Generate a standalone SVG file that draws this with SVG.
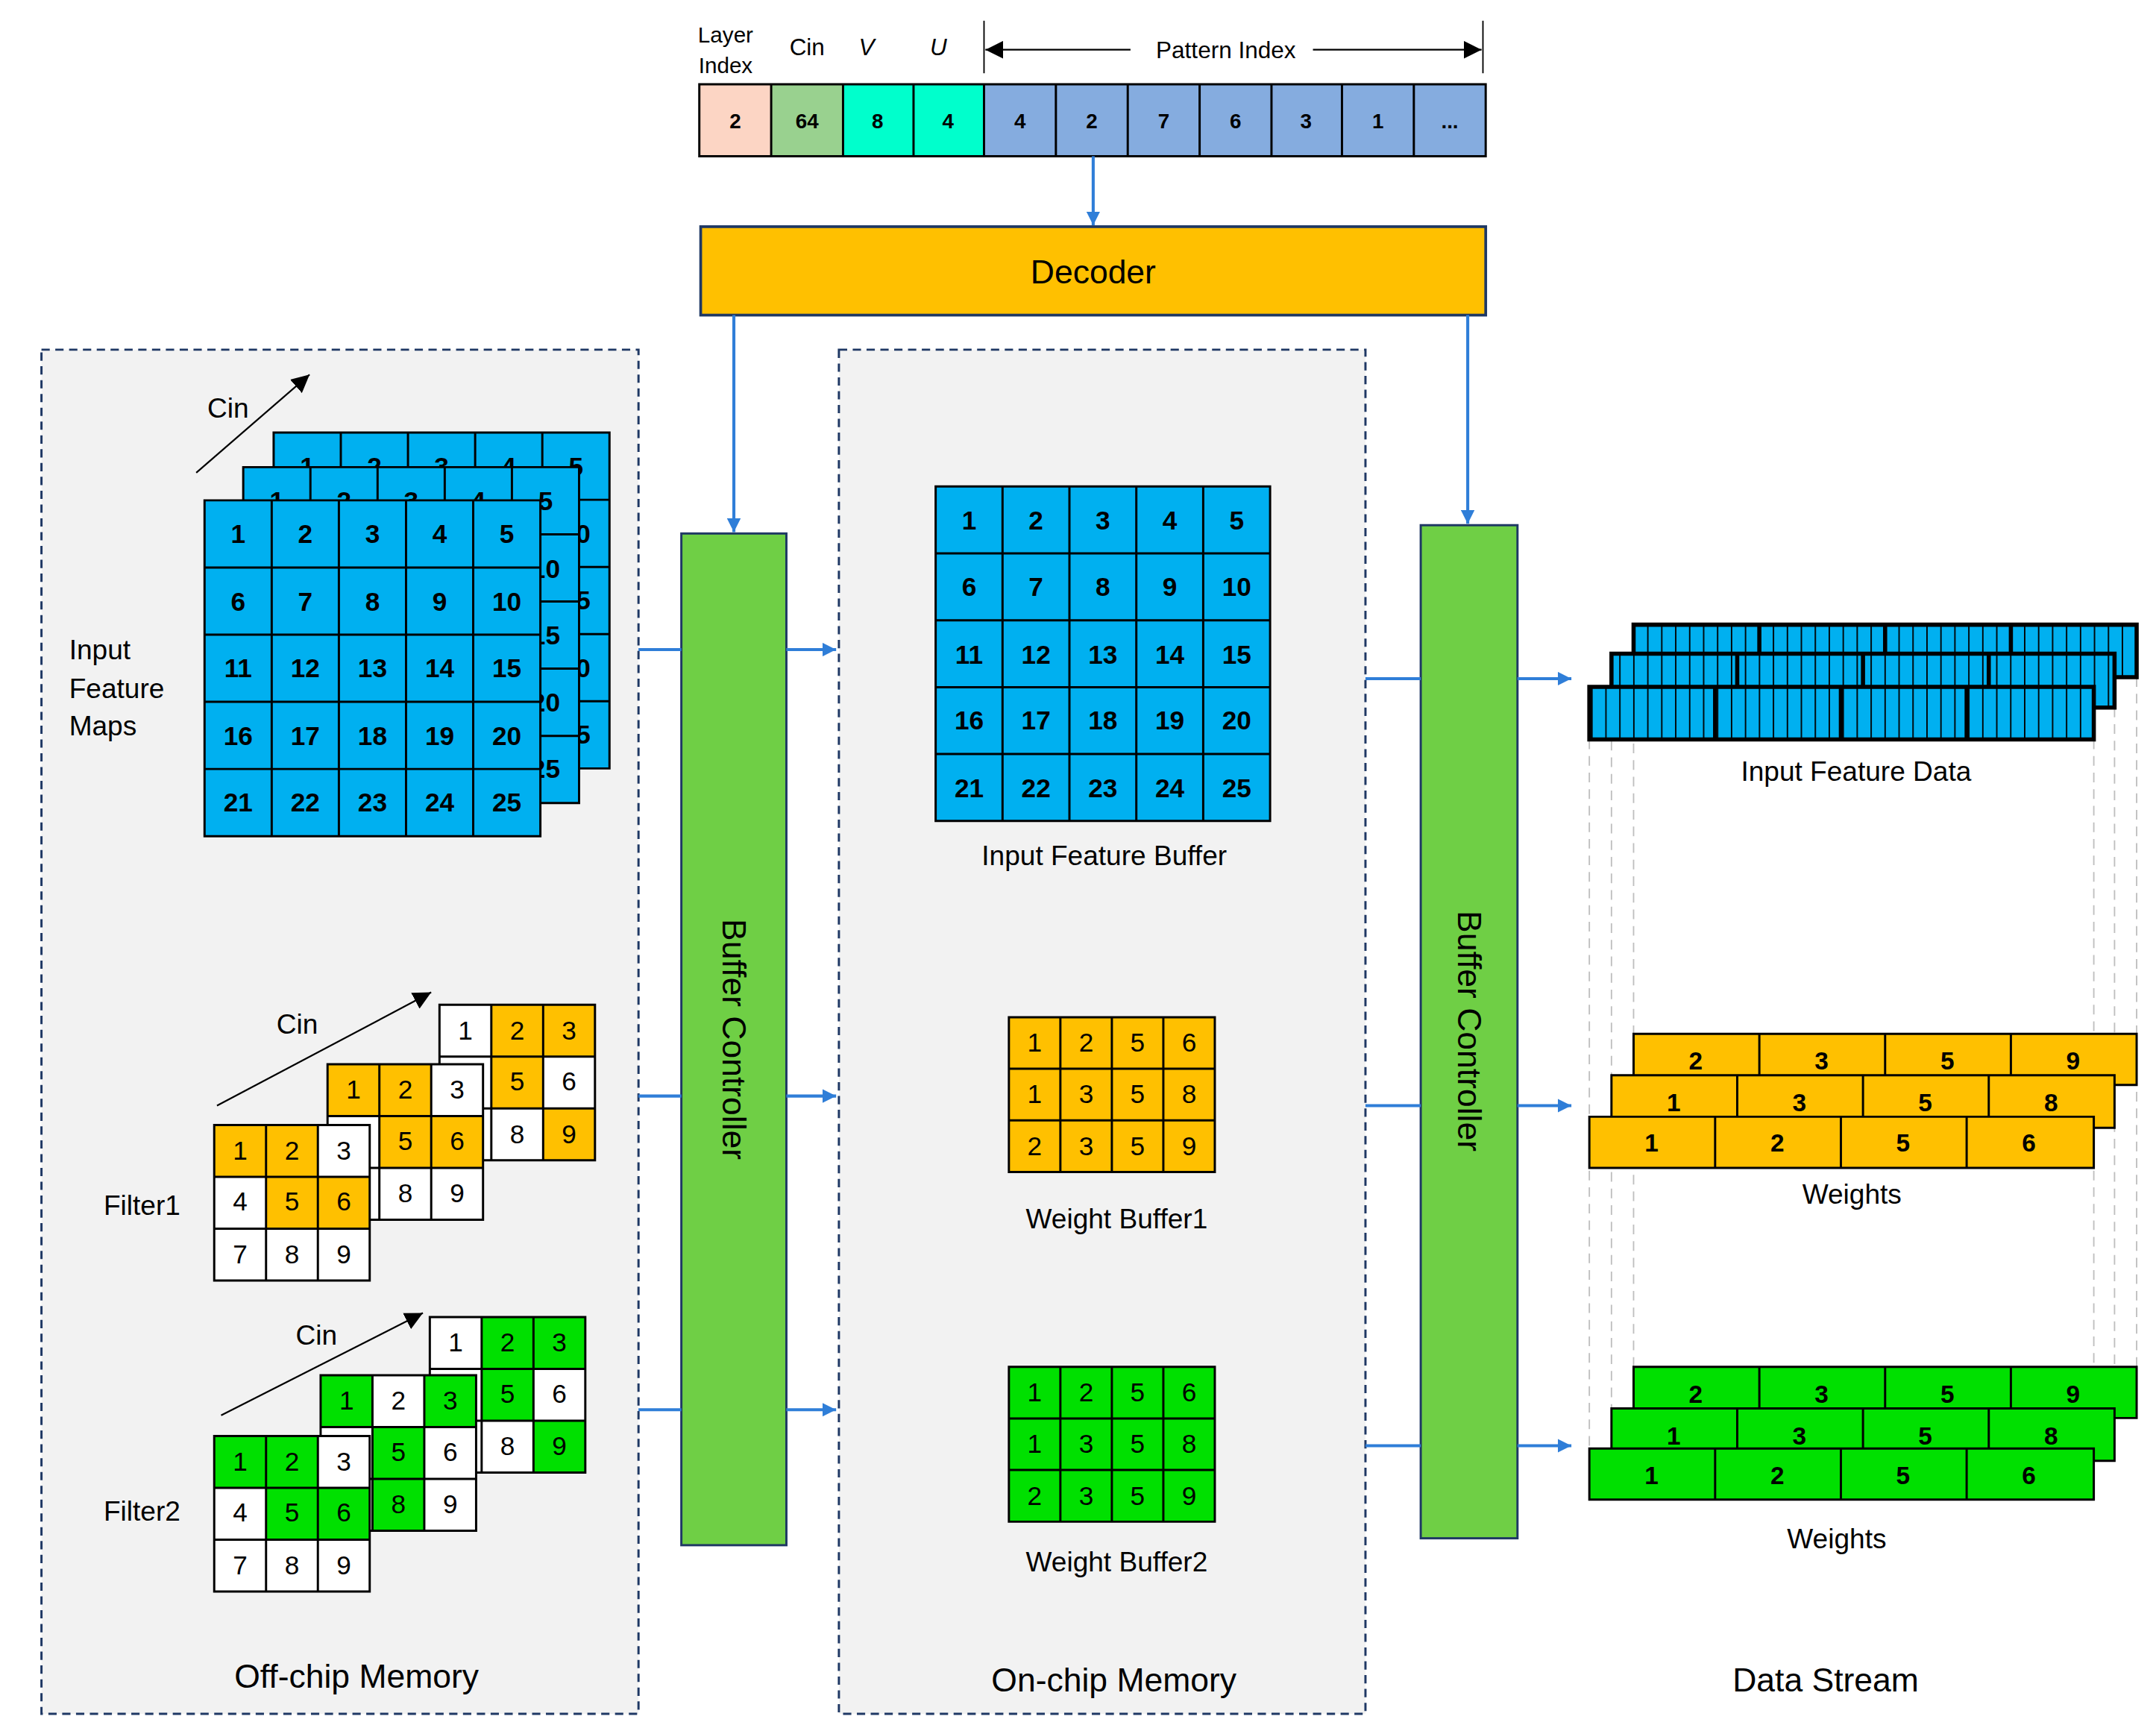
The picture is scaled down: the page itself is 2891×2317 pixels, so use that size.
<svg xmlns="http://www.w3.org/2000/svg" width="2891" height="2317" viewBox="0 0 2891 2317">
<style>
text{font-family:"Liberation Sans",Arial,sans-serif;fill:#000}
.n{font-size:19px;font-weight:bold;text-anchor:middle}
.f{font-size:19px;text-anchor:middle}
.fb{font-size:18px;font-weight:bold;text-anchor:middle}
.bar{font-size:15px;font-weight:bold;text-anchor:middle}
.lbl{font-size:20px}
.big{font-size:24px;text-anchor:middle}
.g{stroke:#000;stroke-width:1.6;fill:none}
.blue{fill:#00b0f0}
.y{fill:#ffc000}
.gr{fill:#00e000}
.w{fill:#fff}
.conn{stroke:#2f7ed8;stroke-width:2.2;fill:none}
.mem{fill:#f2f2f2;stroke:#1f3864;stroke-width:1.6;stroke-dasharray:6,4}
.bc{fill:#6fcf45;stroke:#1f3864;stroke-width:1.6}
.gd{stroke:#bfbfbf;stroke-width:1;stroke-dasharray:7,5;fill:none}
.tb{stroke:#000;stroke-width:3;fill:none}
</style>
<defs>
<marker id="ab" viewBox="0 0 10 10" refX="10" refY="5" markerWidth="10" markerHeight="10" markerUnits="userSpaceOnUse" orient="auto"><path d="M0,0L10,5L0,10z" fill="#2f7ed8"/></marker>
<marker id="ak" viewBox="0 0 10 10" refX="10" refY="5" markerWidth="13" markerHeight="13" markerUnits="userSpaceOnUse" orient="auto"><path d="M0,0L10,5L0,10z" fill="#000"/></marker>
<pattern id="st" x="0" y="0" width="10.1" height="20" patternUnits="userSpaceOnUse"><rect width="10.1" height="20" fill="#00b0f0"/><line x1="0.5" y1="0" x2="0.5" y2="20" stroke="#000" stroke-width="1"/></pattern>
</defs>
<rect width="2891" height="2317" fill="#fff"/>
<g transform="scale(1.8532)">
<g id="header">
<text x="525" y="31" class="lbl" font-size="16" text-anchor="middle" style="font-size:16px">Layer</text>
<text x="525" y="53" style="font-size:16px" text-anchor="middle">Index</text>
<text x="584" y="40" style="font-size:17px" text-anchor="middle">Cin</text>
<text x="627" y="40" style="font-size:17px;font-style:italic" text-anchor="middle">V</text>
<text x="679" y="40" style="font-size:17px;font-style:italic" text-anchor="middle">U</text>
<line x1="712" y1="15" x2="712" y2="53" stroke="#000" stroke-width="1"/>
<line x1="1073" y1="15" x2="1073" y2="53" stroke="#000" stroke-width="1"/>
<line x1="818" y1="36" x2="713" y2="36" stroke="#000" stroke-width="1.2" marker-end="url(#ak)"/>
<line x1="950" y1="36" x2="1072" y2="36" stroke="#000" stroke-width="1.2" marker-end="url(#ak)"/>
<text x="887" y="42" style="font-size:17px" text-anchor="middle">Pattern Index</text>
</g>
<g id="bar">
<rect x="506" y="61" width="52" height="52" fill="#fcd5c4"/>
<rect x="558" y="61" width="52" height="52" fill="#99d18f"/>
<rect x="610" y="61" width="102" height="52" fill="#00ffcc"/>
<rect x="712" y="61" width="363" height="52" fill="#85acdf"/>
<path class="g" d="M506,61H1075V113H506Z M558,61V113 M610,61V113 M661,61V113 M712,61V113 M764,61V113 M816,61V113 M868,61V113 M920,61V113 M971,61V113 M1023,61V113"/>
<text class="bar" x="532" y="93">2</text><text class="bar" x="584" y="93">64</text><text class="bar" x="635" y="93">8</text><text class="bar" x="686" y="93">4</text>
<text class="bar" x="738" y="93">4</text><text class="bar" x="790" y="93">2</text><text class="bar" x="842" y="93">7</text><text class="bar" x="894" y="93">6</text><text class="bar" x="945" y="93">3</text><text class="bar" x="997" y="93">1</text><text class="bar" x="1049" y="93">...</text>
</g>
<g id="decoder">
<rect x="507" y="164" width="568" height="64" fill="#ffc000" stroke="#1f3864" stroke-width="2"/>
<text class="big" x="791" y="205">Decoder</text>
</g>
<g id="offchip"><rect class="mem" x="30" y="253" width="432" height="987"/>
<text class="big" x="258" y="1221">Off-chip Memory</text></g>
<g id="onchip"><rect class="mem" x="607" y="253" width="381" height="987"/>
<text class="big" x="806" y="1224">On-chip Memory</text></g>
<g id="bc1"><rect class="bc" x="493" y="386" width="76" height="732"/>
<text class="big" transform="translate(523,752) rotate(90)">Buffer Controller</text></g>
<g id="bc2"><rect class="bc" x="1028" y="380" width="70" height="733"/>
<text class="big" transform="translate(1055,746) rotate(90)">Buffer Controller</text></g>
<g id="connectors">
<line class="conn" x1="791" y1="113" x2="791" y2="163" marker-end="url(#ab)"/>
<line class="conn" x1="531" y1="228" x2="531" y2="385" marker-end="url(#ab)"/>
<line class="conn" x1="1062" y1="228" x2="1062" y2="379" marker-end="url(#ab)"/>
<line class="conn" x1="462" y1="470" x2="493" y2="470"/><line class="conn" x1="569" y1="470" x2="605" y2="470" marker-end="url(#ab)"/>
<line class="conn" x1="462" y1="793" x2="493" y2="793"/><line class="conn" x1="569" y1="793" x2="605" y2="793" marker-end="url(#ab)"/>
<line class="conn" x1="462" y1="1020" x2="493" y2="1020"/><line class="conn" x1="569" y1="1020" x2="605" y2="1020" marker-end="url(#ab)"/>
<line class="conn" x1="988" y1="491" x2="1028" y2="491"/><line class="conn" x1="1098" y1="491" x2="1137" y2="491" marker-end="url(#ab)"/>
<line class="conn" x1="988" y1="800" x2="1028" y2="800"/><line class="conn" x1="1098" y1="800" x2="1137" y2="800" marker-end="url(#ab)"/>
<line class="conn" x1="988" y1="1046" x2="1028" y2="1046"/><line class="conn" x1="1098" y1="1046" x2="1137" y2="1046" marker-end="url(#ab)"/>
</g>
<g id="ifm">
<line x1="142" y1="342" x2="224" y2="271" stroke="#000" stroke-width="1.2" marker-end="url(#ak)"/>
<text x="165" y="302" class="lbl" text-anchor="middle">Cin</text>
<text x="50" y="477" class="lbl">Input</text><text x="50" y="505" class="lbl">Feature</text><text x="50" y="532" class="lbl">Maps</text>
<rect class="blue" x="198" y="313" width="243" height="243"/>
<path class="g" d="M198,313h243v243h-243z M246.6,313v243 M295.2,313v243 M343.8,313v243 M392.4,313v243 M198,361.6h243 M198,410.2h243 M198,458.8h243 M198,507.4h243"/>
<text class="n" x="222.3" y="344">1</text><text class="n" x="270.9" y="344">2</text><text class="n" x="319.5" y="344">3</text><text class="n" x="368.1" y="344">4</text><text class="n" x="416.7" y="344">5</text>
<text class="n" x="416.7" y="393">10</text><text class="n" x="416.7" y="441">15</text><text class="n" x="416.7" y="490">20</text><text class="n" x="416.7" y="538">25</text>
<rect class="blue" x="176" y="338" width="243" height="243"/>
<path class="g" d="M176,338h243v243h-243z M224.6,338v243 M273.2,338v243 M321.8,338v243 M370.4,338v243 M176,386.6h243 M176,435.2h243 M176,483.8h243 M176,532.4h243"/>
<text class="n" x="200.3" y="369">1</text><text class="n" x="248.9" y="369">2</text><text class="n" x="297.5" y="369">3</text><text class="n" x="346.1" y="369">4</text><text class="n" x="394.7" y="369">5</text>
<text class="n" x="394.7" y="418">10</text><text class="n" x="394.7" y="466">15</text><text class="n" x="394.7" y="515">20</text><text class="n" x="394.7" y="563">25</text>
<rect class="blue" x="148" y="362" width="243" height="243"/>
<path class="g" d="M148,362h243v243h-243z M196.6,362v243 M245.2,362v243 M293.8,362v243 M342.4,362v243 M148,410.6h243 M148,459.2h243 M148,507.8h243 M148,556.4h243"/>
<text class="n" x="172.3" y="393">1</text><text class="n" x="220.9" y="393">2</text><text class="n" x="269.5" y="393">3</text><text class="n" x="318.1" y="393">4</text><text class="n" x="366.7" y="393">5</text>
<text class="n" x="172.3" y="442">6</text><text class="n" x="220.9" y="442">7</text><text class="n" x="269.5" y="442">8</text><text class="n" x="318.1" y="442">9</text><text class="n" x="366.7" y="442">10</text>
<text class="n" x="172.3" y="490">11</text><text class="n" x="220.9" y="490">12</text><text class="n" x="269.5" y="490">13</text><text class="n" x="318.1" y="490">14</text><text class="n" x="366.7" y="490">15</text>
<text class="n" x="172.3" y="539">16</text><text class="n" x="220.9" y="539">17</text><text class="n" x="269.5" y="539">18</text><text class="n" x="318.1" y="539">19</text><text class="n" x="366.7" y="539">20</text>
<text class="n" x="172.3" y="587">21</text><text class="n" x="220.9" y="587">22</text><text class="n" x="269.5" y="587">23</text><text class="n" x="318.1" y="587">24</text><text class="n" x="366.7" y="587">25</text>
</g>
<g id="filter1">
<line x1="157" y1="800" x2="312" y2="718" stroke="#000" stroke-width="1.2" marker-end="url(#ak)"/>
<text x="215" y="748" class="lbl" text-anchor="middle">Cin</text>
<text x="75" y="879" class="lbl">Filter1</text>
<g transform="translate(318,727)">
<rect class="w" width="112.5" height="112.5"/><rect class="y" x="37.5" width="75" height="37.5"/><rect class="y" x="37.5" y="37.5" width="37.5" height="37.5"/><rect class="y" x="75" y="75" width="37.5" height="37.5"/>
<path class="g" d="M0,0h112.5v112.5h-112.5z M37.5,0v112.5 M75,0v112.5 M0,37.5h112.5 M0,75h112.5"/>
<text class="f" x="18.75" y="25">1</text><text class="f" x="56.25" y="25">2</text><text class="f" x="93.75" y="25">3</text><text class="f" x="56.25" y="62">5</text><text class="f" x="93.75" y="62">6</text><text class="f" x="56.25" y="100">8</text><text class="f" x="93.75" y="100">9</text></g>
<g transform="translate(237,770)">
<rect class="w" width="112.5" height="112.5"/><rect class="y" width="75" height="37.5"/><rect class="y" x="37.5" y="37.5" width="75" height="37.5"/>
<path class="g" d="M0,0h112.5v112.5h-112.5z M37.5,0v112.5 M75,0v112.5 M0,37.5h112.5 M0,75h112.5"/>
<text class="f" x="18.75" y="25">1</text><text class="f" x="56.25" y="25">2</text><text class="f" x="93.75" y="25">3</text><text class="f" x="56.25" y="62">5</text><text class="f" x="93.75" y="62">6</text><text class="f" x="56.25" y="100">8</text><text class="f" x="93.75" y="100">9</text></g>
<g transform="translate(155,814)">
<rect class="w" width="112.5" height="112.5"/><rect class="y" width="75" height="37.5"/><rect class="y" x="37.5" y="37.5" width="75" height="37.5"/>
<path class="g" d="M0,0h112.5v112.5h-112.5z M37.5,0v112.5 M75,0v112.5 M0,37.5h112.5 M0,75h112.5"/>
<text class="f" x="18.75" y="25">1</text><text class="f" x="56.25" y="25">2</text><text class="f" x="93.75" y="25">3</text><text class="f" x="18.75" y="62">4</text><text class="f" x="56.25" y="62">5</text><text class="f" x="93.75" y="62">6</text><text class="f" x="18.75" y="100">7</text><text class="f" x="56.25" y="100">8</text><text class="f" x="93.75" y="100">9</text></g>
</g>
<g id="filter2">
<line x1="160" y1="1024" x2="306" y2="950" stroke="#000" stroke-width="1.2" marker-end="url(#ak)"/>
<text x="229" y="973" class="lbl" text-anchor="middle">Cin</text>
<text x="75" y="1100" class="lbl">Filter2</text>
<g transform="translate(311,953)">
<rect class="w" width="112.5" height="112.5"/><rect class="gr" x="37.5" width="75" height="37.5"/><rect class="gr" x="37.5" y="37.5" width="37.5" height="37.5"/><rect class="gr" x="75" y="75" width="37.5" height="37.5"/>
<path class="g" d="M0,0h112.5v112.5h-112.5z M37.5,0v112.5 M75,0v112.5 M0,37.5h112.5 M0,75h112.5"/>
<text class="f" x="18.75" y="25">1</text><text class="f" x="56.25" y="25">2</text><text class="f" x="93.75" y="25">3</text><text class="f" x="56.25" y="62">5</text><text class="f" x="93.75" y="62">6</text><text class="f" x="56.25" y="100">8</text><text class="f" x="93.75" y="100">9</text></g>
<g transform="translate(232,995)">
<rect class="w" width="112.5" height="112.5"/><rect class="gr" width="37.5" height="37.5"/><rect class="gr" x="75" width="37.5" height="37.5"/><rect class="gr" x="37.5" y="37.5" width="37.5" height="75"/>
<path class="g" d="M0,0h112.5v112.5h-112.5z M37.5,0v112.5 M75,0v112.5 M0,37.5h112.5 M0,75h112.5"/>
<text class="f" x="18.75" y="25">1</text><text class="f" x="56.25" y="25">2</text><text class="f" x="93.75" y="25">3</text><text class="f" x="56.25" y="62">5</text><text class="f" x="93.75" y="62">6</text><text class="f" x="56.25" y="100">8</text><text class="f" x="93.75" y="100">9</text></g>
<g transform="translate(155,1039)">
<rect class="w" width="112.5" height="112.5"/><rect class="gr" width="75" height="37.5"/><rect class="gr" x="37.5" y="37.5" width="75" height="37.5"/>
<path class="g" d="M0,0h112.5v112.5h-112.5z M37.5,0v112.5 M75,0v112.5 M0,37.5h112.5 M0,75h112.5"/>
<text class="f" x="18.75" y="25">1</text><text class="f" x="56.25" y="25">2</text><text class="f" x="93.75" y="25">3</text><text class="f" x="18.75" y="62">4</text><text class="f" x="56.25" y="62">5</text><text class="f" x="93.75" y="62">6</text><text class="f" x="18.75" y="100">7</text><text class="f" x="56.25" y="100">8</text><text class="f" x="93.75" y="100">9</text></g>
</g>
<g id="ifbuf">
<rect class="blue" x="677" y="352" width="242" height="242"/>
<path class="g" d="M677,352h242v242h-242z M725.4,352v242 M773.8,352v242 M822.2,352v242 M870.6,352v242 M677,400.4h242 M677,448.8h242 M677,497.2h242 M677,545.6h242"/>
<text class="n" x="701.2" y="383">1</text><text class="n" x="749.6" y="383">2</text><text class="n" x="798" y="383">3</text><text class="n" x="846.4" y="383">4</text><text class="n" x="894.8" y="383">5</text>
<text class="n" x="701.2" y="431">6</text><text class="n" x="749.6" y="431">7</text><text class="n" x="798" y="431">8</text><text class="n" x="846.4" y="431">9</text><text class="n" x="894.8" y="431">10</text>
<text class="n" x="701.2" y="480">11</text><text class="n" x="749.6" y="480">12</text><text class="n" x="798" y="480">13</text><text class="n" x="846.4" y="480">14</text><text class="n" x="894.8" y="480">15</text>
<text class="n" x="701.2" y="528">16</text><text class="n" x="749.6" y="528">17</text><text class="n" x="798" y="528">18</text><text class="n" x="846.4" y="528">19</text><text class="n" x="894.8" y="528">20</text>
<text class="n" x="701.2" y="577">21</text><text class="n" x="749.6" y="577">22</text><text class="n" x="798" y="577">23</text><text class="n" x="846.4" y="577">24</text><text class="n" x="894.8" y="577">25</text>
<text class="lbl" x="799" y="626" text-anchor="middle">Input Feature Buffer</text>
</g>
<g id="wb1">
<rect class="y" x="730" y="736" width="149" height="112"/>
<path class="g" d="M730,736h149v112h-149z M767.25,736v112 M804.5,736v112 M841.75,736v112 M730,773.3h149 M730,810.6h149"/>
<text class="f" x="748.6" y="761">1</text><text class="f" x="785.9" y="761">2</text><text class="f" x="823.1" y="761">5</text><text class="f" x="860.4" y="761">6</text>
<text class="f" x="748.6" y="798">1</text><text class="f" x="785.9" y="798">3</text><text class="f" x="823.1" y="798">5</text><text class="f" x="860.4" y="798">8</text>
<text class="f" x="748.6" y="836">2</text><text class="f" x="785.9" y="836">3</text><text class="f" x="823.1" y="836">5</text><text class="f" x="860.4" y="836">9</text>
<text class="lbl" x="808" y="889" text-anchor="middle">Weight Buffer1</text>
</g>
<g id="wb2">
<rect class="gr" x="730" y="989" width="149" height="112"/>
<path class="g" d="M730,989h149v112h-149z M767.25,989v112 M804.5,989v112 M841.75,989v112 M730,1026.3h149 M730,1063.6h149"/>
<text class="f" x="748.6" y="1014">1</text><text class="f" x="785.9" y="1014">2</text><text class="f" x="823.1" y="1014">5</text><text class="f" x="860.4" y="1014">6</text>
<text class="f" x="748.6" y="1051">1</text><text class="f" x="785.9" y="1051">3</text><text class="f" x="823.1" y="1051">5</text><text class="f" x="860.4" y="1051">8</text>
<text class="f" x="748.6" y="1089">2</text><text class="f" x="785.9" y="1089">3</text><text class="f" x="823.1" y="1089">5</text><text class="f" x="860.4" y="1089">9</text>
<text class="lbl" x="808" y="1137" text-anchor="middle">Weight Buffer2</text>
</g>
<g id="guides">
<path class="gd" d="M1150,535V1085 M1166,512V1057 M1182,490V1026 M1515,535V1085 M1530,512V1057 M1546,490V1026"/>
</g>
<g id="ifdata">
<rect x="1182" y="452" width="364" height="38" fill="url(#st)"/><path class="tb" d="M1182,452h364v38h-364z M1273,452v38 M1364,452v38 M1455,452v38"/>
<rect x="1166" y="473" width="364" height="39" fill="url(#st)"/><path class="tb" d="M1166,473h364v39h-364z M1257,473v39 M1348,473v39 M1439,473v39"/>
<rect x="1150" y="497" width="365" height="38" fill="url(#st)"/><path class="tb" d="M1150,497h365v38h-365z M1241,497v38 M1332,497v38 M1423,497v38"/>
<text class="lbl" x="1343" y="565" text-anchor="middle">Input Feature Data</text>
</g>
<g id="wdata1">
<rect class="y" x="1182" y="748" width="364" height="37"/><path class="g" d="M1182,748h364v37h-364z M1273,748v37 M1364,748v37 M1455,748v37"/>
<text class="fb" x="1227" y="774">2</text><text class="fb" x="1318" y="774">3</text><text class="fb" x="1409" y="774">5</text><text class="fb" x="1500" y="774">9</text>
<rect class="y" x="1166" y="778" width="364" height="38"/><path class="g" d="M1166,778h364v38h-364z M1257,778v38 M1348,778v38 M1439,778v38"/>
<text class="fb" x="1211" y="804">1</text><text class="fb" x="1302" y="804">3</text><text class="fb" x="1393" y="804">5</text><text class="fb" x="1484" y="804">8</text>
<rect class="y" x="1150" y="808" width="365" height="37"/><path class="g" d="M1150,808h365v37h-365z M1241,808v37 M1332,808v37 M1423,808v37"/>
<text class="fb" x="1195" y="833">1</text><text class="fb" x="1286" y="833">2</text><text class="fb" x="1377" y="833">5</text><text class="fb" x="1468" y="833">6</text>
<text class="lbl" x="1340" y="871" text-anchor="middle">Weights</text>
</g>
<g id="wdata2">
<rect class="gr" x="1182" y="989" width="364" height="37"/><path class="g" d="M1182,989h364v37h-364z M1273,989v37 M1364,989v37 M1455,989v37"/>
<text class="fb" x="1227" y="1015">2</text><text class="fb" x="1318" y="1015">3</text><text class="fb" x="1409" y="1015">5</text><text class="fb" x="1500" y="1015">9</text>
<rect class="gr" x="1166" y="1019" width="364" height="38"/><path class="g" d="M1166,1019h364v38h-364z M1257,1019v38 M1348,1019v38 M1439,1019v38"/>
<text class="fb" x="1211" y="1045">1</text><text class="fb" x="1302" y="1045">3</text><text class="fb" x="1393" y="1045">5</text><text class="fb" x="1484" y="1045">8</text>
<rect class="gr" x="1150" y="1048" width="365" height="37"/><path class="g" d="M1150,1048h365v37h-365z M1241,1048v37 M1332,1048v37 M1423,1048v37"/>
<text class="fb" x="1195" y="1074">1</text><text class="fb" x="1286" y="1074">2</text><text class="fb" x="1377" y="1074">5</text><text class="fb" x="1468" y="1074">6</text>
<text class="lbl" x="1329" y="1120" text-anchor="middle">Weights</text>
</g>
<text class="big" x="1321" y="1224">Data Stream</text>
</g>
</svg>
